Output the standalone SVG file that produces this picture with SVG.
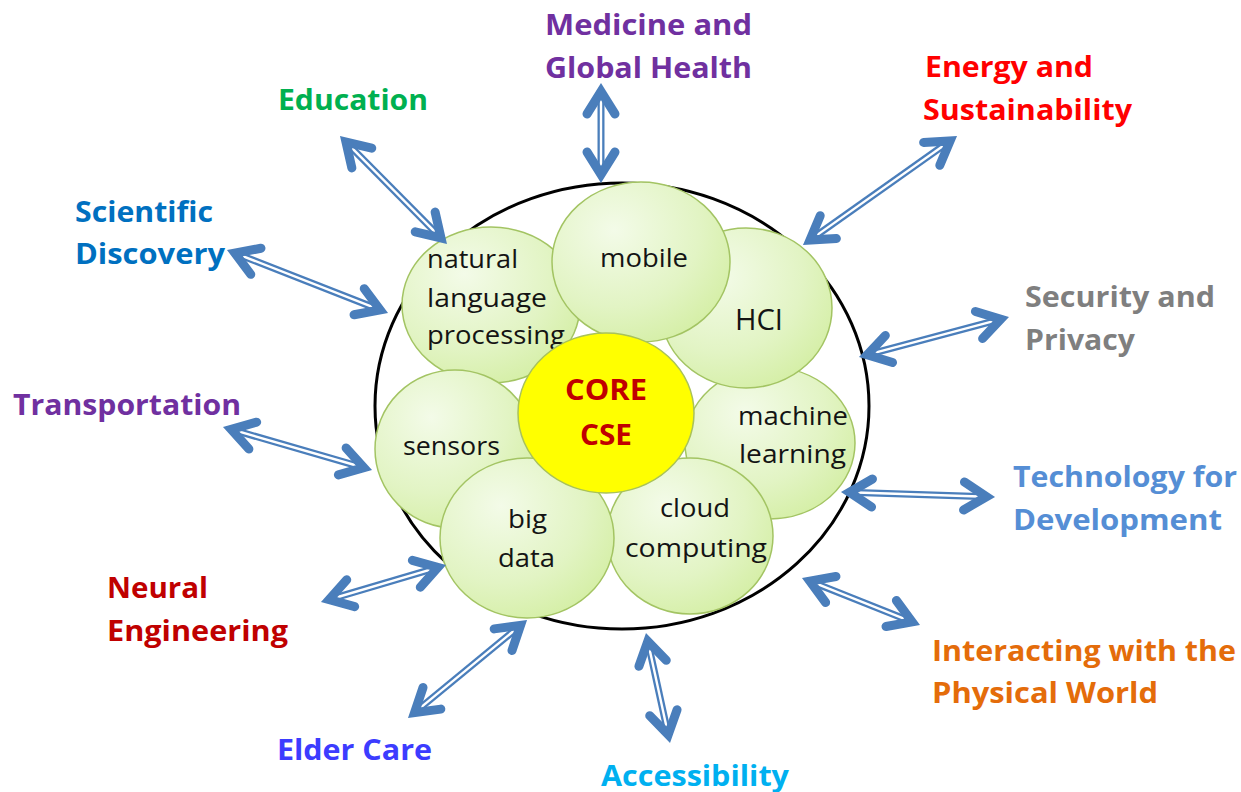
<svg xmlns="http://www.w3.org/2000/svg" xmlns:xlink="http://www.w3.org/1999/xlink" width="1241" height="792" viewBox="0 0 1241 792">
<style>
.lbl{font-family:"Open Sans","Liberation Sans",sans-serif;font-weight:bold;font-size:28px}
.in{font-family:"Open Sans","Liberation Sans",sans-serif;font-size:26px;fill:#141414}
.core{font-family:"Open Sans","Liberation Sans",sans-serif;font-weight:bold;font-size:29px;fill:#c00000}
.bub{fill:url(#g);stroke:#a3c463;stroke-width:1.5}
.shaft{stroke:#4a7ebb;stroke-width:7;fill:none}
.gap{stroke:#ffffff;stroke-width:2.4;fill:none}
.head{stroke:#4a7ebb;stroke-width:9;fill:none;stroke-linejoin:miter;stroke-linecap:round}
</style>
<defs>
<radialGradient id="g" cx="0.35" cy="0.3" r="0.8">
<stop offset="0" stop-color="#f3fbe8"/>
<stop offset="0.6" stop-color="#e2f4c4"/>
<stop offset="1" stop-color="#d3eea2"/>
</radialGradient>
<path id="hL" class="head" d="M31,-14 L8.5,0 L31,14"/>
<path id="hR" class="head" d="M-31,-14 L-8.5,0 L-31,14"/>
</defs>
<rect width="1241" height="792" fill="#ffffff"/>
<g id="outer-ring"><ellipse cx="622" cy="406" rx="247" ry="223" fill="#ffffff" stroke="#000000" stroke-width="3"/></g>
<g id="n-ml"><ellipse class="bub" cx="770" cy="443" rx="85" ry="76"/>
<text class="in" x="738" y="425" textLength="110" lengthAdjust="spacingAndGlyphs">machine</text>
<text class="in" x="739" y="463" textLength="107" lengthAdjust="spacingAndGlyphs">learning</text></g>
<g id="n-hci"><ellipse class="bub" cx="746" cy="308" rx="86" ry="80"/>
<text class="in" x="735" y="330" style="font-size:30px" textLength="48" lengthAdjust="spacingAndGlyphs">HCI</text></g>
<g id="n-nlp"><ellipse class="bub" cx="491" cy="305" rx="89" ry="78"/>
<text class="in" x="427" y="268" textLength="91" lengthAdjust="spacingAndGlyphs">natural</text>
<text class="in" x="427" y="307" textLength="120" lengthAdjust="spacingAndGlyphs">language</text>
<text class="in" x="427" y="344" textLength="138" lengthAdjust="spacingAndGlyphs">processing</text></g>
<g id="n-mobile"><ellipse class="bub" cx="641" cy="262" rx="89" ry="80"/>
<text class="in" x="600" y="267" textLength="88" lengthAdjust="spacingAndGlyphs">mobile</text></g>
<g id="n-sensors"><ellipse class="bub" cx="455" cy="449" rx="80" ry="79"/>
<text class="in" x="403" y="455" textLength="97" lengthAdjust="spacingAndGlyphs">sensors</text></g>
<g id="n-cloud"><ellipse class="bub" cx="690" cy="536" rx="83" ry="78"/>
<text class="in" x="660" y="517" textLength="70" lengthAdjust="spacingAndGlyphs">cloud</text>
<text class="in" x="625" y="557" textLength="142" lengthAdjust="spacingAndGlyphs">computing</text></g>
<g id="n-bigdata"><ellipse class="bub" cx="527" cy="538" rx="87" ry="80"/>
<text class="in" x="508" y="528" textLength="39" lengthAdjust="spacingAndGlyphs">big</text>
<text class="in" x="498" y="567" textLength="57" lengthAdjust="spacingAndGlyphs">data</text></g>
<g id="n-core"><ellipse cx="606" cy="413" rx="88" ry="80" fill="#ffff00" stroke="#a9c25a" stroke-width="1.5"/>
<text class="core" x="565" y="400" textLength="82" lengthAdjust="spacingAndGlyphs">CORE</text>
<text class="core" x="580" y="445" textLength="52" lengthAdjust="spacingAndGlyphs">CSE</text></g>
<g id="connectors">
<g transform="translate(601,83) rotate(90)"><line class="shaft" x1="8" y1="0" x2="92" y2="0"/><line class="gap" x1="8" y1="0" x2="92" y2="0"/><use xlink:href="#hL"/><use xlink:href="#hR" transform="translate(100,0)"/></g>
<g transform="translate(340,136) rotate(45.27)"><line class="shaft" x1="8" y1="0" x2="144" y2="0"/><line class="gap" x1="8" y1="0" x2="144" y2="0"/><use xlink:href="#hL"/><use xlink:href="#hR" transform="translate(152,0)"/></g>
<g transform="translate(227,250) rotate(21.37)"><line class="shaft" x1="8" y1="0" x2="165" y2="0"/><line class="gap" x1="8" y1="0" x2="165" y2="0"/><use xlink:href="#hL"/><use xlink:href="#hR" transform="translate(172.9,0)"/></g>
<g transform="translate(223,427) rotate(16.1)"><line class="shaft" x1="8" y1="0" x2="147" y2="0"/><line class="gap" x1="8" y1="0" x2="147" y2="0"/><use xlink:href="#hL"/><use xlink:href="#hR" transform="translate(155.1,0)"/></g>
<g transform="translate(321,602) rotate(-16.49)"><line class="shaft" x1="8" y1="0" x2="122" y2="0"/><line class="gap" x1="8" y1="0" x2="122" y2="0"/><use xlink:href="#hL"/><use xlink:href="#hR" transform="translate(130.4,0)"/></g>
<g transform="translate(408,718) rotate(-39.47)"><line class="shaft" x1="8" y1="0" x2="146" y2="0"/><line class="gap" x1="8" y1="0" x2="146" y2="0"/><use xlink:href="#hL"/><use xlink:href="#hR" transform="translate(154.2,0)"/></g>
<g transform="translate(646,633) rotate(77.69)"><line class="shaft" x1="8" y1="0" x2="104" y2="0"/><line class="gap" x1="8" y1="0" x2="104" y2="0"/><use xlink:href="#hL"/><use xlink:href="#hR" transform="translate(112.6,0)"/></g>
<g transform="translate(802,578) rotate(21.72)"><line class="shaft" x1="8" y1="0" x2="119" y2="0"/><line class="gap" x1="8" y1="0" x2="119" y2="0"/><use xlink:href="#hL"/><use xlink:href="#hR" transform="translate(127,0)"/></g>
<g transform="translate(841,492) rotate(1.86)"><line class="shaft" x1="8" y1="0" x2="146" y2="0"/><line class="gap" x1="8" y1="0" x2="146" y2="0"/><use xlink:href="#hL"/><use xlink:href="#hR" transform="translate(154.1,0)"/></g>
<g transform="translate(859,357) rotate(-14.93)"><line class="shaft" x1="8" y1="0" x2="147" y2="0"/><line class="gap" x1="8" y1="0" x2="147" y2="0"/><use xlink:href="#hL"/><use xlink:href="#hR" transform="translate(155.2,0)"/></g>
<g transform="translate(803,245) rotate(-35.29)"><line class="shaft" x1="8" y1="0" x2="181" y2="0"/><line class="gap" x1="8" y1="0" x2="181" y2="0"/><use xlink:href="#hL"/><use xlink:href="#hR" transform="translate(188.7,0)"/></g>
</g>
<g id="l-medicine"><text class="lbl" x="545" y="35" fill="#7030a0" textLength="207" lengthAdjust="spacingAndGlyphs">Medicine and</text><text class="lbl" x="545" y="78" fill="#7030a0" textLength="207" lengthAdjust="spacingAndGlyphs">Global Health</text></g>
<g id="l-energy"><text class="lbl" x="925" y="77" fill="#ff0000" textLength="168" lengthAdjust="spacingAndGlyphs">Energy and</text><text class="lbl" x="923" y="120" fill="#ff0000" textLength="209" lengthAdjust="spacingAndGlyphs">Sustainability</text></g>
<g id="l-education"><text class="lbl" x="278" y="110" fill="#00b050" textLength="150" lengthAdjust="spacingAndGlyphs">Education</text></g>
<g id="l-scientific"><text class="lbl" x="75" y="222" fill="#0070c0" textLength="138" lengthAdjust="spacingAndGlyphs">Scientific</text><text class="lbl" x="75" y="264" fill="#0070c0" textLength="150" lengthAdjust="spacingAndGlyphs">Discovery</text></g>
<g id="l-transportation"><text class="lbl" x="13" y="415" fill="#7030a0" textLength="228" lengthAdjust="spacingAndGlyphs">Transportation</text></g>
<g id="l-neural"><text class="lbl" x="107" y="598" fill="#c00000" textLength="101" lengthAdjust="spacingAndGlyphs">Neural</text><text class="lbl" x="107" y="641" fill="#c00000" textLength="181" lengthAdjust="spacingAndGlyphs">Engineering</text></g>
<g id="l-elder"><text class="lbl" x="277" y="760" fill="#3c3cff" textLength="155" lengthAdjust="spacingAndGlyphs">Elder Care</text></g>
<g id="l-access"><text class="lbl" x="601" y="786" fill="#00b0f0" textLength="188" lengthAdjust="spacingAndGlyphs">Accessibility</text></g>
<g id="l-interact"><text class="lbl" x="932" y="661" fill="#e46c0a" textLength="304" lengthAdjust="spacingAndGlyphs">Interacting with the</text><text class="lbl" x="932" y="703" fill="#e46c0a" textLength="226" lengthAdjust="spacingAndGlyphs">Physical World</text></g>
<g id="l-tech"><text class="lbl" x="1013" y="487" fill="#558ed5" textLength="224" lengthAdjust="spacingAndGlyphs">Technology for</text><text class="lbl" x="1013" y="530" fill="#558ed5" textLength="209" lengthAdjust="spacingAndGlyphs">Development</text></g>
<g id="l-security"><text class="lbl" x="1025" y="307" fill="#7f7f7f" textLength="190" lengthAdjust="spacingAndGlyphs">Security and</text><text class="lbl" x="1025" y="350" fill="#7f7f7f" textLength="110" lengthAdjust="spacingAndGlyphs">Privacy</text></g>
</svg>
